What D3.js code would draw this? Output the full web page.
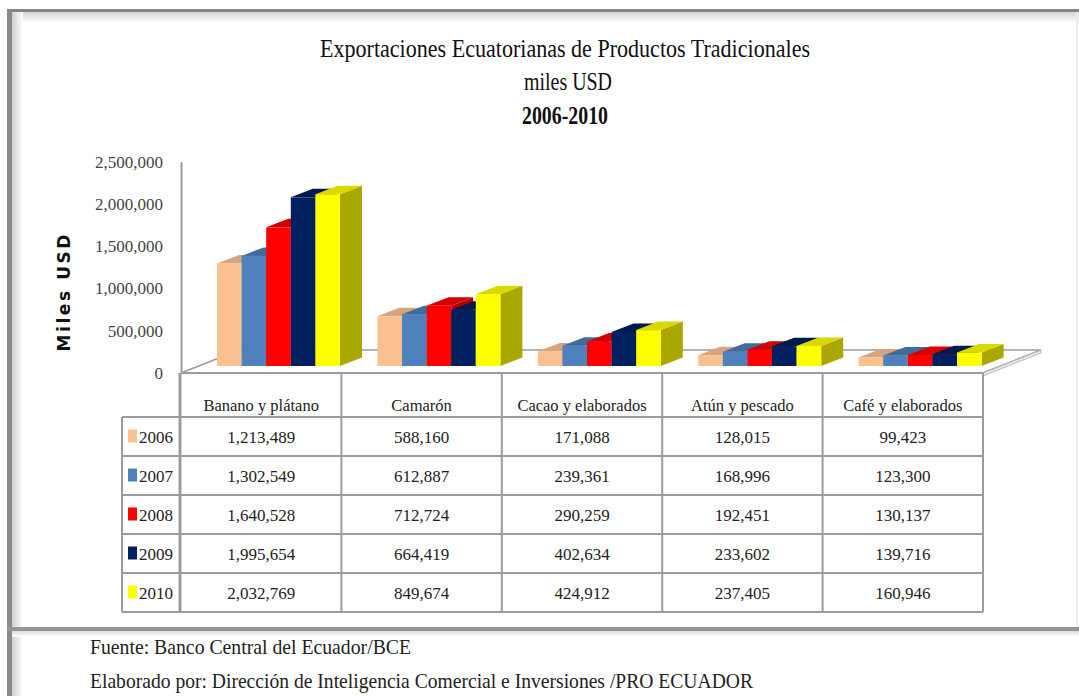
<!DOCTYPE html>
<html>
<head>
<meta charset="utf-8">
<script src="https://cdn.jsdelivr.net/npm/d3@7"></script>
<style>
body { margin: 0; background: #fff; }
svg { display: block; font-family: 'Liberation Serif', 'DejaVu Serif', serif; }
</style>
</head>
<body>
<svg id="chart" width="1079" height="696"></svg>
<script>
// datos (miles USD)
const categories = ['Banano y plátano', 'Camarón', 'Cacao y elaborados', 'Atún y pescado', 'Café y elaborados'];
const years = ['2006', '2007', '2008', '2009', '2010'];
const v2006 = [1213489, 588160, 171088, 128015, 99423];
const v2007 = [1302549, 612887, 239361, 168996, 123300];
const v2008 = [1640528, 712724, 290259, 192451, 130137];
const v2009 = [1995654, 664419, 402634, 233602, 139716];
const v2010 = [2032769, 849674, 424912, 237405, 160946];
const series = [v2006, v2007, v2008, v2009, v2010];
const yTicks = [0, 500000, 1000000, 1500000, 2000000, 2500000];
const titleLines = ['Exportaciones Ecuatorianas de Productos Tradicionales', 'miles USD', '2006-2010'];
const yTitle = 'Miles USD';
const sourceLines = ['Fuente: Banco Central del Ecuador/BCE',
  'Elaborado por: Dirección de Inteligencia Comercial e Inversiones /PRO ECUADOR'];

// colores: frente, tapa, lado
const front = ['#FAC090', '#4F81BD', '#FF0000', '#002060', '#FFFF00'];
const topC = ['#D8A47C', '#3F6C9F', '#D40000', '#001A4E', '#D9D900'];
const side = ['#C8996F', '#3A6290', '#B80000', '#00163F', '#A8A800'];

let svg = d3.select('#chart');
let defs = svg.append('defs');

function grad(id, x2, y2, stops) {
  let g = defs.append('linearGradient').attr('id', id)
    .attr('x1', 0).attr('y1', 0).attr('x2', x2).attr('y2', y2);
  stops.forEach(s => g.append('stop').attr('offset', s[0]).attr('stop-color', s[1]));
}
grad('gTop', 0, 1, [[0, '#d6d6d6'], [1, '#ffffff']]);
grad('gLeft', 1, 0, [[0, '#cfcfcf'], [1, '#ffffff']]);
grad('gBot', 0, 1, [[0, '#dcdcdc'], [1, '#ffffff']]);

// marco con sombra
svg.append('rect').attr('x', 12).attr('y', 12).attr('width', 1067).attr('height', 11).attr('fill', 'url(#gTop)');
svg.append('rect').attr('x', 12).attr('y', 12).attr('width', 11).attr('height', 684).attr('fill', 'url(#gLeft)');
svg.append('rect').attr('x', 12).attr('y', 631).attr('width', 1067).attr('height', 6).attr('fill', 'url(#gBot)');
svg.append('rect').attr('x', 7).attr('y', 9).attr('width', 1072).attr('height', 3).attr('fill', '#858585');
svg.append('rect').attr('x', 7).attr('y', 9).attr('width', 5).attr('height', 687).attr('fill', '#8a8a8a');
svg.append('rect').attr('x', 7).attr('y', 627).attr('width', 1072).attr('height', 4).attr('fill', '#959595');
svg.append('rect').attr('x', 1076).attr('y', 12).attr('width', 2).attr('height', 615).attr('fill', '#ececec');

// titulo
let tpos = [[565, 57, 490, 'normal'], [568, 90, 88, 'normal'], [565, 124, 86, 'bold']];
svg.selectAll('.title').data(titleLines).enter().append('text')
  .attr('class', 'title')
  .attr('x', (d, i) => tpos[i][0]).attr('y', (d, i) => tpos[i][1])
  .attr('text-anchor', 'middle')
  .attr('textLength', (d, i) => tpos[i][2]).attr('lengthAdjust', 'spacingAndGlyphs')
  .style('font-size', '25px').style('font-weight', (d, i) => tpos[i][3])
  .attr('fill', '#111')
  .text(d => d);

// escalas
let x = d3.scaleBand().domain(categories).range([181, 983]);
let xYear = d3.scaleBand().domain(years).range([36, 159]);
let y = d3.scaleLinear().domain([0, 2500000]).range([373, 161.7]);
let lift = 7;          // base de las barras dentro del piso
let dx = 22, dy = 8.5; // profundidad barras
let fdx = 58, fdy = 23; // profundidad piso

// piso
let x0f = x.range()[0], x1f = x.range()[1], yf = y(0);
svg.append('polygon')
  .attr('points', [[x0f, yf], [x1f, yf], [x1f + fdx, yf - fdy], [x0f + fdx, yf - fdy]].join(' '))
  .attr('fill', '#fff').attr('stroke', '#9a9a9a').attr('stroke-width', 1.5);
svg.append('polygon')
  .attr('points', [[x1f, yf], [x1f + fdx, yf - fdy], [x1f + fdx, yf - fdy + 3], [x1f, yf + 3]].join(' '))
  .attr('fill', '#e6e6e6').attr('stroke', '#b0b0b0').attr('stroke-width', 0.8);

// eje y
let yAxis = svg.append('g').attr('transform', 'translate(181,0)')
  .call(d3.axisLeft(y).tickValues(yTicks).tickFormat(d3.format(',')).tickSize(0).tickPadding(18));
yAxis.attr('font-family', "'Liberation Serif', serif").attr('font-size', 17);
yAxis.select('.domain').attr('stroke', '#9a9a9a').attr('stroke-width', 2);
yAxis.selectAll('text').attr('fill', '#444');

svg.append('text')
  .attr('transform', 'translate(70,293) rotate(-90)')
  .attr('text-anchor', 'middle')
  .attr('textLength', 117).attr('lengthAdjust', 'spacing')
  .attr('font-family', "'DejaVu Sans', 'Liberation Sans', sans-serif")
  .style('font-family', "'DejaVu Sans', 'Liberation Sans', sans-serif")
  .style('font-size', '17px').style('font-weight', 'bold')
  .attr('fill', '#111')
  .text(yTitle);

// barras 3D
let bars = [];
categories.forEach((c, ci) => {
  years.forEach((yr, yi) => bars.push({c: c, yr: yr, yi: yi, v: series[yi][ci]}));
});
let bar = svg.append('g').selectAll('g').data(bars).enter().append('g');
function geo(d) {
  let bx = x(d.c) + xYear(d.yr), w = xYear.bandwidth();
  return {bx: bx, w: w, yb: y(0) - lift, yt: y(d.v) - lift};
}
bar.append('polygon')
  .attr('points', d => { let g = geo(d);
    return [[g.bx + g.w, g.yt], [g.bx + g.w + dx, g.yt - dy], [g.bx + g.w + dx, g.yb - dy], [g.bx + g.w, g.yb]].join(' '); })
  .attr('fill', d => side[d.yi]);
bar.append('polygon')
  .attr('points', d => { let g = geo(d);
    return [[g.bx, g.yt], [g.bx + g.w, g.yt], [g.bx + g.w + dx, g.yt - dy], [g.bx + dx, g.yt - dy]].join(' '); })
  .attr('fill', d => topC[d.yi]);
bar.append('rect')
  .attr('x', d => geo(d).bx).attr('y', d => geo(d).yt)
  .attr('width', xYear.bandwidth()).attr('height', d => geo(d).yb - geo(d).yt)
  .attr('fill', d => front[d.yi]);

// tabla de datos
let tTop = y(0), hdrBot = 417, rowH = 39, legL = 122;
let tBot = hdrBot + rowH * years.length;
let grid = svg.append('g').attr('stroke', '#9c9c9c').attr('stroke-width', 2);
grid.append('line').attr('x1', x0f).attr('x2', x1f).attr('y1', tTop).attr('y2', tTop);
years.forEach((yr, i) => {
  grid.append('line').attr('x1', legL).attr('x2', x1f).attr('y1', hdrBot + rowH * i).attr('y2', hdrBot + rowH * i);
});
grid.append('line').attr('x1', legL).attr('x2', x1f).attr('y1', tBot).attr('y2', tBot);
grid.append('line').attr('x1', legL).attr('x2', legL).attr('y1', hdrBot).attr('y2', tBot);
grid.append('line').attr('x1', x0f - 1).attr('x2', x0f - 1).attr('y1', tTop).attr('y2', tBot).attr('stroke-width', 3);
categories.forEach(c => {
  let xr = x(c) + x.bandwidth();
  grid.append('line').attr('x1', xr).attr('x2', xr).attr('y1', tTop).attr('y2', tBot);
});

svg.append('g').selectAll('text').data(categories).enter().append('text')
  .attr('x', d => x(d) + x.bandwidth() / 2).attr('y', 411)
  .attr('text-anchor', 'middle').style('font-size', '16.5px').attr('fill', '#222')
  .text(d => d);

let rows = svg.append('g').selectAll('g').data(years).enter().append('g')
  .attr('transform', (d, i) => 'translate(0,' + (hdrBot + rowH * i + rowH / 2) + ')');
rows.append('rect').attr('x', 128).attr('y', -7).attr('width', 9).attr('height', 13)
  .attr('fill', (d, i) => front[i]);
rows.append('text').attr('x', 139).attr('y', 6).style('font-size', '17px').attr('fill', '#222')
  .text(d => d);
rows.selectAll('.val').data((d, i) => series[i].map((v, ci) => ({v: v, c: categories[ci]})))
  .enter().append('text').attr('class', 'val')
  .attr('x', d => x(d.c) + x.bandwidth() / 2).attr('y', 6)
  .attr('text-anchor', 'middle').style('font-size', '17px').attr('fill', '#222')
  .text(d => d3.format(',')(d.v));

// fuente
let spos = [[654, 321], [688, 663]];
svg.selectAll('.src').data(sourceLines).enter().append('text')
  .attr('class', 'src')
  .attr('x', 90).attr('y', (d, i) => spos[i][0])
  .attr('textLength', (d, i) => spos[i][1]).attr('lengthAdjust', 'spacingAndGlyphs')
  .style('font-size', '21px').attr('fill', '#222')
  .text(d => d);
</script>
</body>
</html>
